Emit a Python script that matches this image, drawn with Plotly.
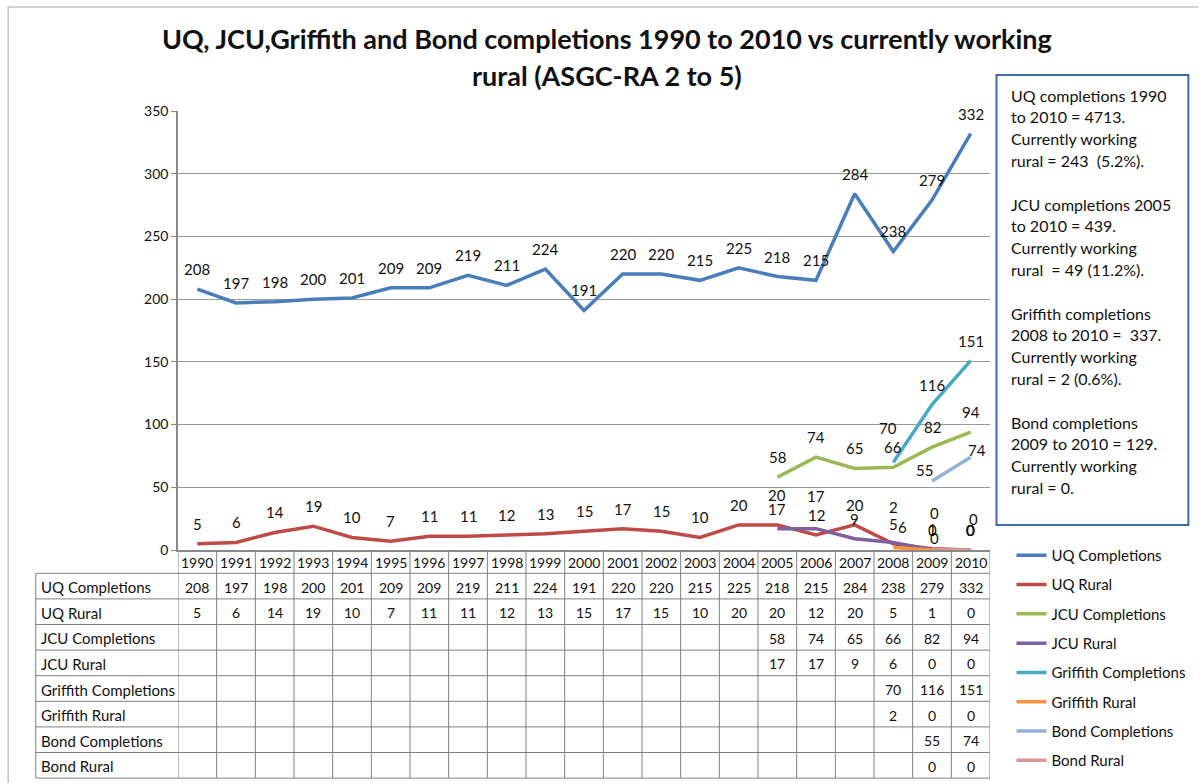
import plotly.graph_objects as go

# ---------------- data ----------------
YEARS = list(range(1990, 2011))
N = None
UQ_COMPLETIONS = [208, 197, 198, 200, 201, 209, 209, 219, 211, 224, 191,
                  220, 220, 215, 225, 218, 215, 284, 238, 279, 332]
UQ_RURAL = [5, 6, 14, 19, 10, 7, 11, 11, 12, 13, 15,
            17, 15, 10, 20, 20, 12, 20, 5, 1, 0]
JCU_COMPLETIONS = [N] * 15 + [58, 74, 65, 66, 82, 94]
JCU_RURAL = [N] * 15 + [17, 17, 9, 6, 0, 0]
GRIFFITH_COMPLETIONS = [N] * 18 + [70, 116, 151]
GRIFFITH_RURAL = [N] * 18 + [2, 0, 0]
BOND_COMPLETIONS = [N] * 19 + [55, 74]
BOND_RURAL = [N] * 19 + [0, 0]

SERIES_NAMES = ["UQ Completions", "UQ Rural", "JCU Completions", "JCU Rural",
                "Griffith Completions", "Griffith Rural", "Bond Completions", "Bond Rural"]
SERIES_VALUES = [UQ_COMPLETIONS, UQ_RURAL, JCU_COMPLETIONS, JCU_RURAL,
                 GRIFFITH_COMPLETIONS, GRIFFITH_RURAL, BOND_COMPLETIONS, BOND_RURAL]
COLORS = ["#4A7EBB", "#BE4B48", "#98B954", "#7D60A0",
          "#46AAC5", "#F69240", "#95B3D7", "#DA9694"]

TITLE_LINES = ["UQ, JCU,Griffith and Bond completions 1990 to 2010 vs currently working",
               "rural (ASGC-RA 2 to 5)"]
NOTE_LINES = [
    "UQ completions 1990", "to 2010 = 4713.", "Currently working", "rural = 243  (5.2%).", "",
    "JCU completions 2005", "to 2010 = 439.", "Currently working", "rural  = 49 (11.2%).", "",
    "Griffith completions", "2008 to 2010 =  337.", "Currently working", "rural = 2 (0.6%).", "",
    "Bond completions", "2009 to 2010 = 129.", "Currently working", "rural = 0.",
]

# label nudges (xshift, yshift) for crowded labels
LABEL_SHIFT_DEFAULT = 20
LABEL_NUDGE = {
    ("UQ Rural", 2005): (0, 30),
    ("JCU Rural", 2006): (0, 33),
    ("Griffith Rural", 2008): (0, 40),
    ("JCU Rural", 2008): (9, 15),
    ("Griffith Rural", 2009): (2, 37),
    ("Bond Rural", 2009): (2, 12),
    ("Griffith Rural", 2010): (3, 31),
    ("Griffith Completions", 2008): (-5, 34),
    ("Bond Completions", 2009): (-8, 11),
    ("Bond Completions", 2010): (6, 7),
}

# ---------------- layout geometry (pixels) ----------------
W, H = 1200, 783
PL, PR, PT, PB = 178, 990.5, 111, 550
FONT = "Lato"


def px2x(px):
    return (px - PL) / (PR - PL)


def px2y(py):
    return (PB - py) / (PB - PT)


fig = go.Figure()
for name, vals, col in zip(SERIES_NAMES, SERIES_VALUES, COLORS):
    fig.add_trace(go.Scatter(
        x=YEARS, y=vals, name=name, mode="lines", legendgroup=name,
        line=dict(color=col, width=3.5), connectgaps=False,
    ))

annotations = []
shapes = []

# data labels
for name, vals in zip(SERIES_NAMES, SERIES_VALUES):
    for yr, v in zip(YEARS, vals):
        if v is None:
            continue
        xs, ys = LABEL_NUDGE.get((name, yr), (0, LABEL_SHIFT_DEFAULT))
        annotations.append(dict(
            x=yr, y=v, xref="x", yref="y", text=str(v), showarrow=False,
            xshift=xs, yshift=ys, yanchor="middle", xanchor="center",
            font=dict(family=FONT, size=15, color="#111111")))

# title
for i, line in enumerate(TITLE_LINES):
    annotations.append(dict(
        x=px2x(607), y=px2y(38 + i * 37.5), xref="paper", yref="paper",
        text="<b>%s</b>" % line, showarrow=False, xanchor="center", yanchor="middle",
        font=dict(family=FONT, size=27, color="#111111")))

# note box
shapes.append(dict(type="rect", xref="paper", yref="paper",
                   x0=px2x(997), x1=px2x(1189), y0=px2y(75), y1=px2y(525),
                   line=dict(color="#3F6CA8", width=2), fillcolor="white", layer="below"))
for i, line in enumerate(NOTE_LINES):
    if not line:
        continue
    annotations.append(dict(
        x=px2x(1010), y=px2y(95 + i * 21.8), xref="paper", yref="paper",
        text=line, showarrow=False, xanchor="left", yanchor="middle",
        font=dict(family=FONT, size=16, color="#111111")))

# outer chart border
shapes.append(dict(type="line", xref="paper", yref="paper",
                   x0=px2x(8), x1=px2x(1199), y0=px2y(7), y1=px2y(7),
                   line=dict(color="#A6A6A6", width=1)))
shapes.append(dict(type="line", xref="paper", yref="paper",
                   x0=px2x(8), x1=px2x(8), y0=px2y(7), y1=px2y(783),
                   line=dict(color="#A6A6A6", width=1)))

# data table
ROW_TOP = 573.3
ROW_H = 25.6
TABLE_LINE = dict(color="#808080", width=1)
n_rows = len(SERIES_NAMES)
bottom = ROW_TOP + n_rows * ROW_H
for k in range(n_rows + 1):
    yy = px2y(ROW_TOP + k * ROW_H)
    shapes.append(dict(type="line", xref="paper", yref="paper",
                       x0=px2x(35.7), x1=1, y0=yy, y1=yy, line=TABLE_LINE))
shapes.append(dict(type="line", xref="paper", yref="paper",
                   x0=px2x(35.7), x1=px2x(35.7), y0=px2y(ROW_TOP), y1=px2y(bottom),
                   line=TABLE_LINE))
for yr in YEARS + [YEARS[-1] + 1]:
    shapes.append(dict(type="line", xref="x", yref="paper",
                       x0=yr - 0.5, x1=yr - 0.5, y0=px2y(PB), y1=px2y(bottom),
                       line=TABLE_LINE))
# header (years)
for yr in YEARS:
    annotations.append(dict(
        x=yr, y=px2y((PB + ROW_TOP) / 2 + 1), xref="x", yref="paper", text=str(yr),
        showarrow=False, xanchor="center", yanchor="middle",
        font=dict(family=FONT, size=14, color="#111111")))
# rows
for r, (name, vals) in enumerate(zip(SERIES_NAMES, SERIES_VALUES)):
    yc = px2y(ROW_TOP + (r + 0.5) * ROW_H + 1)
    annotations.append(dict(
        x=px2x(39), y=yc, xref="paper", yref="paper", text=name, showarrow=False,
        xanchor="left", yanchor="middle",
        font=dict(family=FONT, size=15, color="#111111")))
    for yr, v in zip(YEARS, vals):
        if v is None:
            continue
        annotations.append(dict(
            x=yr, y=yc, xref="x", yref="paper", text=str(v), showarrow=False,
            xanchor="center", yanchor="middle",
            font=dict(family=FONT, size=14, color="#111111")))

fig.update_layout(
    width=W, height=H,
    margin=dict(l=PL, r=W - PR, t=PT, b=H - PB, pad=0, autoexpand=False),
    paper_bgcolor="white", plot_bgcolor="white",
    showlegend=True,
    legend=dict(x=px2x(1012), xanchor="left", y=px2y(539), yanchor="top",
                font=dict(family=FONT, size=15, color="#111111"),
                tracegroupgap=6.8, itemwidth=30, bgcolor="rgba(0,0,0,0)"),
    xaxis=dict(range=[1989.5, 2010.5], showticklabels=False, showgrid=False,
               zeroline=False, showline=True, linecolor="#8A8A8A", linewidth=1.5,
               ticks="", layer="below traces", fixedrange=True),
    yaxis=dict(range=[0, 350], dtick=50, tick0=0, showgrid=True, gridcolor="#9A9A9A",
               gridwidth=1, zeroline=False, showline=True, linecolor="#8A8A8A",
               linewidth=1.5, ticks="outside", ticklen=5, tickcolor="#8A8A8A",
               tickfont=dict(family=FONT, size=14, color="#111111"),
               layer="below traces", fixedrange=True),
    annotations=annotations,
    shapes=shapes,
    font=dict(family=FONT),
)

fig.write_html(
    "out.html",
    config={"displayModeBar": False},
    post_script="document.body.style.margin='0';document.body.style.overflow='hidden';",
)
